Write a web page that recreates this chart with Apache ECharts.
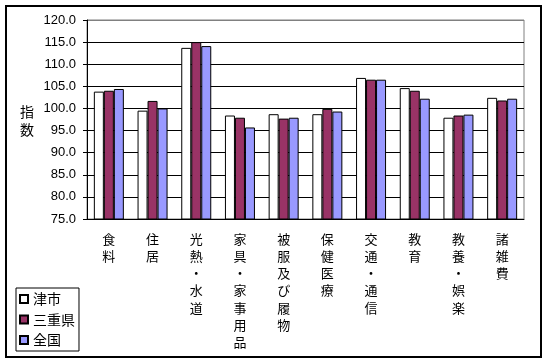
<!DOCTYPE html>
<html><head><meta charset="utf-8">
<script src="https://cdn.jsdelivr.net/npm/echarts@6/dist/echarts.min.js"></script>
<style>html,body{margin:0;padding:0;background:#fff}#c{width:548px;height:363px}</style>
</head><body><div id="c"></div>
<script>
const categories = ['食料','住居','光熱・水道','家具・家事用品','被服及び履物','保健医療','交通・通信','教育','教養・娯楽','諸雑費'];
const tsu   = [103.8, 99.5, 113.7, 98.4, 98.7, 98.7, 106.9, 104.6, 97.9, 102.4];
const mie   = [104.0, 101.7, 115.0, 97.9, 97.7, 99.9, 106.5, 104.0, 98.4, 101.8];
const japan = [104.4, 100.0, 114.1, 95.7, 97.9, 99.3, 106.5, 102.2, 98.6, 102.2];
const seriesNames = ['津市','三重県','全国'];
const yMin = 75, yMax = 120, yStep = 5;

const fontJP = '"Noto Sans CJK JP", sans-serif';
const chart = echarts.init(document.getElementById('c'), null, {renderer:'canvas'});
const splitColors = [];
for (let v = yMin; v <= yMax; v += yStep) splitColors.push(v === yMax ? '#808080' : '#000');
const mk = (name, data, color) => ({
  name, type:'bar', data, barWidth:10, barGap:'0%',
  itemStyle:{color, borderColor:'#000', borderWidth:1}
});
chart.setOption({
  animation:false,
  backgroundColor:'#fff',
  grid:{left:87, right:24, top:20, bottom:144, show:true, borderColor:'#808080', borderWidth:1},
  graphic:[
    {type:'rect', shape:{x:6, y:6, width:535, height:351}, style:{fill:'none', stroke:'#000', lineWidth:2}, z:-1},
    {type:'text', left:20, top:103, style:{text:'指\n数', font:'14px '+fontJP, lineHeight:18, fill:'#000'}}
  ],
  legend:{
    orient:'vertical', left:16, top:288, itemWidth:8, itemHeight:8, itemGap:4.5,
    icon:'rect', borderColor:'#000', borderWidth:1, padding:[3,4,3,3],
    textStyle:{fontFamily:fontJP, fontSize:14, color:'#000', lineHeight:16},
    data: seriesNames
  },
  xAxis:{
    type:'category', data:categories,
    axisLine:{lineStyle:{color:'#000', width:1}},
    axisTick:{inside:true, length:4, lineStyle:{color:'#000'}},
    axisLabel:{
      interval:0, margin:11, fontFamily:fontJP, fontSize:13, color:'#000', lineHeight:17.3,
      formatter: v => v.split('').join('\n')
    }
  },
  yAxis:{
    type:'value', min:yMin, max:yMax, interval:yStep,
    axisLine:{show:true, lineStyle:{color:'#000'}},
    axisTick:{show:true, length:4, lineStyle:{color:'#000'}},
    axisLabel:{margin:11, fontFamily:'"Liberation Sans", Arial, sans-serif', fontSize:13, color:'#000',
      formatter: v => v.toFixed(1)},
    splitLine:{show:true, lineStyle:{color:splitColors, width:1}}
  },
  series:[mk(seriesNames[0], tsu, '#FFFFFF'), mk(seriesNames[1], mie, '#993366'), mk(seriesNames[2], japan, '#9999FF')]
});
</script></body></html>
